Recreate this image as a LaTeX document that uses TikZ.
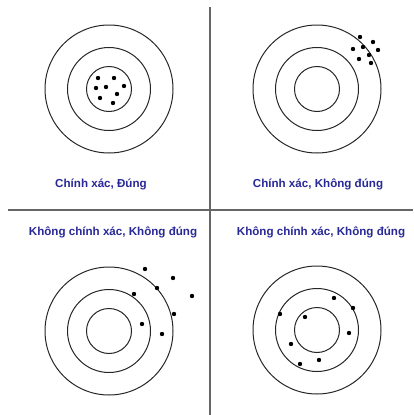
\documentclass[tikz,border=0pt]{standalone}
\usepackage{fontspec}
\setmainfont{Liberation Sans}
\usepackage{tikz}
\usetikzlibrary{positioning}
\definecolor{capblue}{RGB}{40,40,150}

\begin{document}
\begin{tikzpicture}[
  x=1pt, y=-1pt,
  ring/.style={draw=black!85, line width=1pt},
  divider/.style={draw=black!60, line width=1.6pt},
  shot/.style={fill=black},
  caption/.style={text=capblue, font=\fontsize{11.6}{13}\selectfont\bfseries, inner sep=0pt}
]
  \useasboundingbox (0,0) rectangle (413,415);

  % dividing cross
  \coordinate (vtop) at (210,7);
  \coordinate (vbot) at (210,415);
  \coordinate (hleft) at (8,210);
  \coordinate (hright) at (413,210);
  \draw[divider] (vtop) -- (vbot);
  \draw[divider] (hleft) -- (hright);

  % targets
  \foreach \cx/\cy in {109/89, 317/89, 109/331, 317/330} {
    \draw[ring] (\cx,\cy) circle (64);
    \draw[ring] (\cx,\cy) circle (41.5);
    \draw[ring] (\cx,\cy) circle (22.5);
  }

  % shots
  \foreach \px/\py in {98/78, 114/78, 96/88, 106/87, 124/86, 100/98, 117/94, 113/103}
    \fill[shot] (\px,\py) circle (2.2);
  \foreach \px/\py in {360/37, 373/42, 353/49, 363/47, 378/50, 359/59, 369/55, 371/63}
    \fill[shot] (\px,\py) circle (2.2);
  \foreach \px/\py in {145/269, 173/278, 157/288, 134/294, 192/296, 174/314, 142/324, 162/334}
    \fill[shot] (\px,\py) circle (2.2);
  \foreach \px/\py in {334/298, 353/308, 280/314, 305/317, 349/333, 291/344, 319/360, 300/364}
    \fill[shot] (\px,\py) circle (2.2);

  % captions
  \node[caption] (capA) at (101,184) {Chính xác, Đúng};
  \node[caption] (capB) at (318,184) {Chính xác, Không đúng};
  \node[caption] (capC) at (113,232) {Không chính xác, Không đúng};
  \node[caption] (capD) at (321,232) {Không chính xác, Không đúng};
\end{tikzpicture}
\end{document}
